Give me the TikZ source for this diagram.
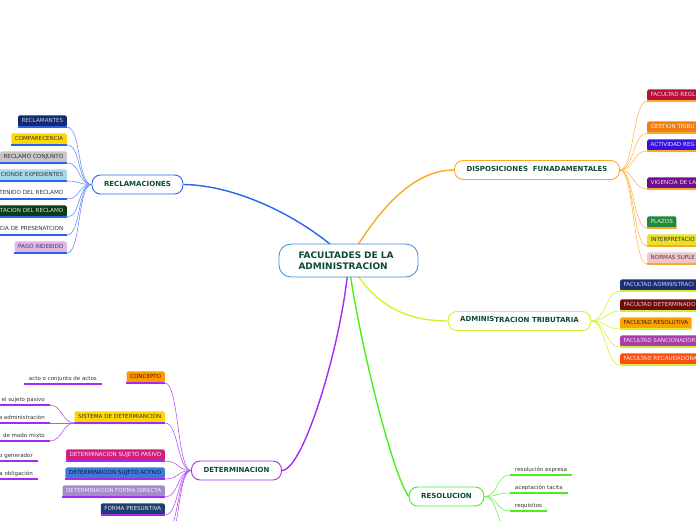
\documentclass[tikz,border=0pt]{standalone}
\usepackage{fontspec}
\setmainfont{DejaVu Sans}
\usetikzlibrary{backgrounds}

\definecolor{maintext}{HTML}{0E4A38}
\definecolor{darktext}{HTML}{333333}
\definecolor{rootblue}{HTML}{3B8AD6}
\definecolor{brblue}{HTML}{2B63EE}
\definecolor{brorange}{HTML}{FFA726}
\definecolor{brlime}{HTML}{D6EE34}
\definecolor{brpurple}{HTML}{A32BF2}
\definecolor{brgreen}{HTML}{4CEE22}

\begin{document}
\begin{tikzpicture}[x=1pt, y=-1pt,
    root/.style={draw=rootblue, line width=0.8pt, fill=white, rounded corners=12pt,
                 text width=100pt, align=left, inner xsep=19.5pt, inner ysep=0pt,
                 minimum height=33pt, text=maintext,
                 font=\fontsize{9}{11}\selectfont\bfseries},
    topic/.style={draw=#1, line width=0.9pt, fill=white, rounded corners=8.5pt,
                  inner xsep=12pt, inner ysep=0pt, minimum height=19pt,
                  text height=5.2pt, text depth=1.4pt, text=maintext,
                  font=\fontsize{7}{8}\selectfont\bfseries},
    tag/.style={rounded corners=1.5pt, inner xsep=3.5pt, inner ysep=0pt,
                minimum height=11.5pt, text height=4.1pt, text depth=1.3pt,
                text=darktext, font=\fontsize{5.6}{6.6}\selectfont},
    note/.style={inner xsep=5pt, inner ysep=0pt, minimum height=10pt,
                 text height=4.1pt, text depth=1.3pt,
                 text=darktext, font=\fontsize{5.5}{6.6}\selectfont},
    cutl/.style={text width=#1, align=right},
    cutr/.style={text width=#1, align=left},
    under/.style={append after command={(\tikzlastnode.south west)
                  edge[draw=#1, line width=1.4pt] (\tikzlastnode.south east)}},
    trunk/.style={draw=#1, line width=1.4pt},
    link/.style={draw=#1, line width=0.6pt}
  ]
  \useasboundingbox (0,0) rectangle (696,520);
  \clip (0,0) rectangle (696,520);

  \node[root] (fac) at (348.5,260.5) {FACULTADES DE LA\\ADMINISTRACION};

  \node[topic=brblue] (rec) at (137.5,184.5) {RECLAMACIONES};
  \node[topic=brorange] (disp) at (537,170) {DISPOSICIONES~ FUNADAMENTALES};
  \node[topic=brlime] (adm) at (519.5,321) {\raisebox{1.5pt}{ADMINIS}TRACION TRIBUTARIA};
  \node[topic=brpurple] (det) at (236.5,470.5) {DETERMINACION};
  \node[topic=brgreen] (res) at (446.5,496.5) {RESOLUCION};

  \begin{scope}[on background layer]
    \draw[trunk=brblue] (fac.center) .. controls (303,216) and (235,185) .. (rec.east);
    \draw[trunk=brorange] (fac.center) .. controls (375,215) and (410,170) .. (disp.west);
    \draw[trunk=brlime] (fac.center) .. controls (370,300) and (400,321) .. (adm.west);
    \draw[trunk=brpurple] (fac.center) .. controls (345,330) and (305,470) .. (det.east);
    \draw[trunk=brgreen] (fac.center) .. controls (355,320) and (390,470) .. (res.west);
  \end{scope}

  % reclamaciones
  \node[tag, under=brblue, anchor=south east, fill={rgb,255:red,21;green,42;blue,107}, text={rgb,255:red,190;green,205;blue,255}] (rc1) at (67,127) {RECLAMANTES};
  \node[tag, under=brblue, anchor=south east, fill={rgb,255:red,255;green,215;blue,0}] (rc2) at (67,145) {COMPARECENCIA};
  \node[tag, under=brblue, anchor=south east, fill={rgb,255:red,198;green,198;blue,198}] (rc3) at (67,163) {RECLAMO CONJUNTO};
  \node[tag, under=brblue, anchor=south east, cutl=75pt, fill={rgb,255:red,166;green,217;blue,232}] (rc4) at (67,181) {CIONDE EXPEDIENTES};
  \node[tag, under=brblue, anchor=south east, cutl=75pt] (rc5) at (67,199) {TENIDO DEL RECLAMO};
  \node[tag, under=brblue, anchor=south east, cutl=75pt, fill={rgb,255:red,13;green,59;blue,20}, text={rgb,255:red,215;green,232;blue,215}] (rc6) at (67,217) {TACION DEL RECLAMO};
  \node[tag, under=brblue, anchor=south east, cutl=75pt] (rc7) at (67,235) {CIA DE PRESENATCION};
  \node[tag, under=brblue, anchor=south east, fill={rgb,255:red,220;green,184;blue,230}, text={rgb,255:red,90;green,50;blue,110}] (rc8) at (67,253) {PAGO INDEBIDO};
  \draw[link=brblue!70] (rec.west) .. controls +(-14,0) and +(14,0) .. (rc1.south east);
  \draw[link=brblue!70] (rec.west) .. controls +(-14,0) and +(14,0) .. (rc2.south east);
  \draw[link=brblue!70] (rec.west) .. controls +(-14,0) and +(14,0) .. (rc3.south east);
  \draw[link=brblue!70] (rec.west) .. controls +(-14,0) and +(14,0) .. (rc4.south east);
  \draw[link=brblue!70] (rec.west) .. controls +(-14,0) and +(14,0) .. (rc5.south east);
  \draw[link=brblue!70] (rec.west) .. controls +(-14,0) and +(14,0) .. (rc6.south east);
  \draw[link=brblue!70] (rec.west) .. controls +(-14,0) and +(14,0) .. (rc7.south east);
  \draw[link=brblue!70] (rec.west) .. controls +(-14,0) and +(14,0) .. (rc8.south east);

  % disposiciones
  \node[tag, under=brorange, anchor=south west, cutr=70pt, fill={rgb,255:red,181;green,18;blue,58}, text={rgb,255:red,255;green,210;blue,225}] (ds1) at (647,101) {FACULTAD REGL};
  \node[tag, under=brorange, anchor=south west, cutr=70pt, fill={rgb,255:red,240;green,127;blue,18}, text={rgb,255:red,255;green,238;blue,215}] (ds2) at (647,133) {GESTION TRIBU};
  \node[tag, under=brorange, anchor=south west, cutr=70pt, fill={rgb,255:red,58;green,18;blue,224}, text={rgb,255:red,225;green,225;blue,255}] (ds3) at (647,151) {ACTIVIDAD REG};
  \node[tag, under=brorange, anchor=south west, cutr=70pt, fill={rgb,255:red,110;green,15;blue,140}, text={rgb,255:red,240;green,215;blue,255}] (ds4) at (647,189) {VIGENCIA DE LA};
  \node[tag, under=brorange, anchor=south west, fill={rgb,255:red,35;green,136;blue,58}, text={rgb,255:red,215;green,255;blue,215}] (ds5) at (647,228) {PLAZOS};
  \node[tag, under=brorange, anchor=south west, cutr=70pt, fill={rgb,255:red,233;green,224;blue,42}] (ds6) at (647,246) {INTERPRETACIO};
  \node[tag, under=brorange, anchor=south west, cutr=70pt, fill={rgb,255:red,236;green,200;blue,204}, text={rgb,255:red,106;green,42;blue,58}] (ds7) at (647,264) {NORMAS SUPLE};
  \draw[link=brorange!80] (disp.east) .. controls +(14,0) and +(-14,0) .. (ds1.south west);
  \draw[link=brorange!80] (disp.east) .. controls +(14,0) and +(-14,0) .. (ds2.south west);
  \draw[link=brorange!80] (disp.east) .. controls +(14,0) and +(-14,0) .. (ds3.south west);
  \draw[link=brorange!80] (disp.east) .. controls +(14,0) and +(-14,0) .. (ds4.south west);
  \draw[link=brorange!80] (disp.east) .. controls +(14,0) and +(-14,0) .. (ds5.south west);
  \draw[link=brorange!80] (disp.east) .. controls +(14,0) and +(-14,0) .. (ds6.south west);
  \draw[link=brorange!80] (disp.east) .. controls +(14,0) and +(-14,0) .. (ds7.south west);

  % administracion tributaria
  \node[tag, under=brlime, anchor=south west, cutr=85pt, fill={rgb,255:red,27;green,46;blue,114}, text={rgb,255:red,200;green,212;blue,255}] (ad1) at (620,291) {FACULTAD ADMINISTRACI};
  \node[tag, under=brlime, anchor=south west, cutr=85pt, fill={rgb,255:red,107;green,13;blue,13}, text={rgb,255:red,255;green,200;blue,200}] (ad2) at (620,311) {FACULTAD DETERMINADO};
  \node[tag, under=brlime, anchor=south west, fill={rgb,255:red,255;green,162;blue,0}, text={rgb,255:red,58;green,32;blue,0}] (ad3) at (620,329) {FACULTAD RESOLUTIVA};
  \node[tag, under=brlime, anchor=south west, cutr=85pt, fill={rgb,255:red,168;green,62;blue,168}, text={rgb,255:red,255;green,216;blue,255}] (ad4) at (620,347) {FACULTAD SANCIONADOR};
  \node[tag, under=brlime, anchor=south west, cutr=85pt, fill={rgb,255:red,255;green,80;blue,17}, text={rgb,255:red,255;green,232;blue,216}] (ad5) at (620,365) {FACULTAD RECAUDADORA};
  \draw[link=brlime] (adm.east) .. controls +(14,0) and +(-14,0) .. (ad1.south west);
  \draw[link=brlime] (adm.east) .. controls +(14,0) and +(-14,0) .. (ad2.south west);
  \draw[link=brlime] (adm.east) .. controls +(14,0) and +(-14,0) .. (ad3.south west);
  \draw[link=brlime] (adm.east) .. controls +(14,0) and +(-14,0) .. (ad4.south west);
  \draw[link=brlime] (adm.east) .. controls +(14,0) and +(-14,0) .. (ad5.south west);

  % determinacion
  \node[tag, under=brpurple, anchor=south east, fill={rgb,255:red,255;green,153;blue,0}, text={rgb,255:red,58;green,32;blue,0}] (dt1) at (165,383) {CONCEPTO};
  \node[tag, under=brpurple, anchor=south east, fill={rgb,255:red,255;green,216;blue,0}] (dt2) at (165,423) {SISTEMA DE DETERMIANCION};
  \node[tag, under=brpurple, anchor=south east, fill={rgb,255:red,211;green,31;blue,124}, text={rgb,255:red,255;green,224;blue,240}] (dt3) at (165,461) {DETERMINACION SUJETO PASIVO};
  \node[tag, under=brpurple, anchor=south east, fill={rgb,255:red,61;green,123;blue,214}, text={rgb,255:red,10;green,26;blue,74}] (dt4) at (165,479) {DETERMINACION SUJETO ACTIVO};
  \node[tag, under=brpurple, anchor=south east, fill={rgb,255:red,165;green,140;blue,200}, text={rgb,255:red,245;green,238;blue,255}] (dt5) at (165,497) {DETERMINACION FORMA DIRECTA};
  \node[tag, under=brpurple, anchor=south east, fill={rgb,255:red,28;green,63;blue,112}, text={rgb,255:red,224;green,232;blue,255}] (dt6) at (165,515) {FORMA PRESUNTIVA};
  \coordinate (dt7) at (165,533);
  \coordinate (dt8) at (165,551);
  \draw[link=brpurple!80] (det.west) .. controls +(-14,0) and +(14,0) .. (dt1.south east);
  \draw[link=brpurple!80] (det.west) .. controls +(-14,0) and +(14,0) .. (dt2.south east);
  \draw[link=brpurple!80] (det.west) .. controls +(-14,0) and +(14,0) .. (dt3.south east);
  \draw[link=brpurple!80] (det.west) .. controls +(-14,0) and +(14,0) .. (dt4.south east);
  \draw[link=brpurple!80] (det.west) .. controls +(-14,0) and +(14,0) .. (dt5.south east);
  \draw[link=brpurple!80] (det.west) .. controls +(-14,0) and +(14,0) .. (dt6.south east);
  \draw[link=brpurple!80] (det.west) .. controls +(-14,0) and +(14,0) .. (dt7);
  \draw[link=brpurple!80] (det.west) .. controls +(-14,0) and +(14,0) .. (dt8);

  \node[note, under=brpurple, anchor=south east] (cp1) at (102,384) {acto o conjunto de actos};
  \node[note, under=brpurple, anchor=south east, cutl=70pt] (sd1) at (50,405) {el sujeto pasivo};
  \node[note, under=brpurple, anchor=south east, cutl=70pt] (sd2) at (50,423) {a administración};
  \node[note, under=brpurple, anchor=south east, cutl=70pt] (sd3) at (50,441) {de modo mixto};
  \node[note, under=brpurple, anchor=south east, cutl=60pt] (sp1) at (38,461) {o generador};
  \node[note, under=brpurple, anchor=south east, cutl=60pt] (sa1) at (38,479) {la obligación};
  \draw[link=brpurple!80] (dt2.south west) .. controls +(-12,0) and +(12,0) .. (sd1.south east);
  \draw[link=brpurple!80] (dt2.south west) .. controls +(-12,0) and +(12,0) .. (sd2.south east);
  \draw[link=brpurple!80] (dt2.south west) .. controls +(-12,0) and +(12,0) .. (sd3.south east);

  % resolucion
  \node[note, under=brgreen, anchor=south west] (rs1) at (510,475) {resolución expresa};
  \node[note, under=brgreen, anchor=south west] (rs2) at (510,493) {aceptación tacita};
  \node[note, under=brgreen, anchor=south west] (rs3) at (510,511) {requisitos};
  \coordinate (rs4) at (510,529);
  \draw[link=brgreen!80] (res.east) .. controls +(14,0) and +(-14,0) .. (rs1.south west);
  \draw[link=brgreen!80] (res.east) .. controls +(14,0) and +(-14,0) .. (rs2.south west);
  \draw[link=brgreen!80] (res.east) .. controls +(14,0) and +(-14,0) .. (rs3.south west);
  \draw[link=brgreen!80] (res.east) .. controls +(14,0) and +(-14,0) .. (rs4);
\end{tikzpicture}
\end{document}
